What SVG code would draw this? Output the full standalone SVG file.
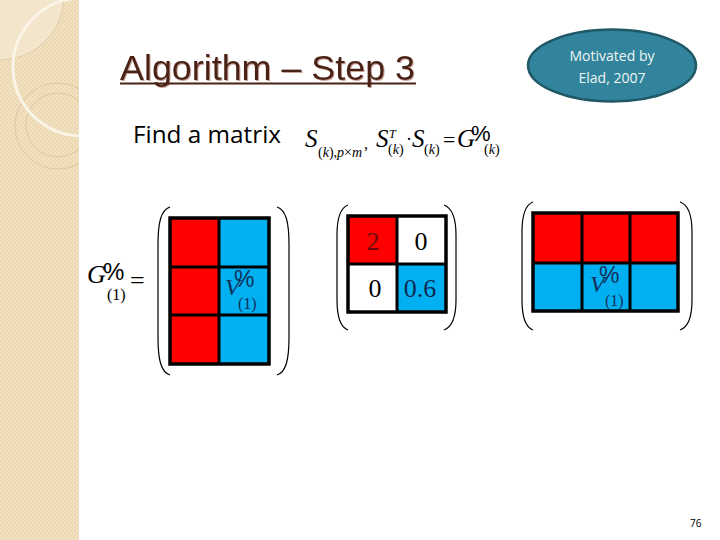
<svg xmlns="http://www.w3.org/2000/svg" width="720" height="540" viewBox="0 0 720 540">
  <defs>
    <pattern id="tex" width="4" height="4" patternUnits="userSpaceOnUse">
      <rect width="4" height="4" fill="#F1E1C0"/>
      <rect width="2" height="2" fill="#ECD9B4"/>
      <rect x="2" y="2" width="2" height="2" fill="#ECD9B4"/>
    </pattern>
    <clipPath id="side"><rect x="0" y="0" width="79" height="540"/></clipPath>
    <filter id="sh" x="-5%" y="-20%" width="110%" height="140%">
      <feOffset dx="1.2" dy="1.2" in="SourceAlpha" result="o"/>
      <feFlood flood-color="#B47A70" flood-opacity="0.7"/>
      <feComposite in2="o" operator="in" result="s"/>
      <feMerge><feMergeNode in="s"/><feMergeNode in="SourceGraphic"/></feMerge>
    </filter>
  </defs>
  <style>
    .red{fill:#FF0000}
    .blue{fill:#00B0F0}
    .wht{fill:#FFFFFF}
    .grid{fill:none;stroke:#000;stroke-width:3.5}
    .gl{stroke:#000;stroke-width:3}
    .paren{fill:none;stroke:#000;stroke-width:1.2}
    .m{font-family:"Liberation Serif",serif}
    .mi{font-family:"Liberation Serif",serif;font-style:italic}
    .pc{font-family:"Liberation Sans",sans-serif;font-style:normal}
  </style>
  <rect width="720" height="540" fill="#FFFFFF"/>

  <g id="sidebar" clip-path="url(#side)">
    <rect x="0" y="0" width="79" height="540" fill="url(#tex)"/>
    <circle cx="0" cy="-4" r="64" fill="#F6EBD6" opacity="0.6"/>
    <circle cx="0" cy="-4" r="64" fill="none" stroke="#D9C7A0" stroke-width="0.8"/>
    <circle cx="58" cy="126" r="43" fill="none" stroke="#D5C19A" stroke-width="0.8"/>
    <circle cx="58" cy="125" r="32" fill="none" stroke="#D5C19A" stroke-width="0.8"/>
    <circle cx="82" cy="67" r="69" fill="none" stroke="#FBF5E8" stroke-width="3"/>
  </g>

  <g id="title">
    <text x="120" y="80" font-family="Liberation Sans, Arial, sans-serif" font-size="35" fill="#4A2216" filter="url(#sh)" textLength="295" lengthAdjust="spacingAndGlyphs">Algorithm – Step 3</text>
    <rect x="120" y="82.5" width="296" height="2" fill="#4A2216"/>
  </g>

  <g id="note">
    <ellipse cx="612" cy="65.5" rx="84" ry="36" fill="#31849B" stroke="#215868" stroke-width="2.5"/>
    <text x="612" y="61" text-anchor="middle" font-family="Open Sans, sans-serif" font-size="14" fill="#EEF4F5">Motivated by</text>
    <text x="612" y="83" text-anchor="middle" font-family="Open Sans, sans-serif" font-size="14" fill="#EEF4F5">Elad, 2007</text>
  </g>

  <g id="statement">
    <text x="133" y="143" font-family="Open Sans, sans-serif" font-size="23" fill="#000" textLength="148" lengthAdjust="spacingAndGlyphs">Find a matrix</text>
    <text class="m" font-size="25" fill="#000"><tspan class="mi" x="305" y="147">S</tspan><tspan x="318" y="157" font-size="14">(<tspan class="mi">k</tspan>),<tspan class="mi">p</tspan>×<tspan class="mi">m</tspan></tspan><tspan x="364" y="149" font-size="16">,</tspan><tspan class="mi" x="376" y="147">S</tspan><tspan class="mi" x="389" y="138" font-size="12">T</tspan><tspan x="388" y="154" font-size="14">(<tspan class="mi">k</tspan>)</tspan><tspan x="406" y="145" font-size="18">·</tspan><tspan class="mi" x="412" y="147">S</tspan><tspan x="424" y="154" font-size="14">(<tspan class="mi">k</tspan>)</tspan><tspan x="443" y="147" font-size="22">=</tspan><tspan class="mi" x="457" y="147">G</tspan><tspan class="pc" x="471" y="141" font-size="22">%</tspan><tspan x="484" y="154" font-size="14">(<tspan class="mi">k</tspan>)</tspan></text>
  </g>

  <g id="matrix-G">
    <text class="m" font-size="26" fill="#000"><tspan class="mi" x="87" y="283">G</tspan><tspan class="pc" x="103" y="280" font-size="24">%</tspan><tspan x="107" y="300" font-size="16">(1)</tspan><tspan x="130" y="289">=</tspan></text>
    <path class="paren" d="M170 207 C161 210 158 222 158 245 L158 337 C158 360 161 372 170 375"/>
    <path class="paren" d="M277 207 C286 210 289 222 289 245 L289 337 C289 360 286 372 277 375"/>
    <rect class="red" x="170" y="218" width="49" height="146"/>
    <rect class="blue" x="219" y="218" width="50" height="146"/>
    <line class="gl" x1="219" y1="218" x2="219" y2="364"/>
    <line class="gl" x1="170" y1="267" x2="269" y2="267"/>
    <line class="gl" x1="170" y1="315" x2="269" y2="315"/>
    <rect class="grid" x="170" y="218" width="99" height="146"/>
    <text class="m" font-size="24" fill="#12305A"><tspan class="mi" x="225" y="295">V</tspan><tspan class="pc" x="234" y="287" font-size="23">%</tspan><tspan x="238" y="309" font-size="16">(1)</tspan></text>
  </g>

  <g id="matrix-D">
    <path class="paren" d="M348 205 C340 208 337 218 337 235 L337 300 C337 317 340 327 348 330"/>
    <path class="paren" d="M444 205 C452 208 456 218 456 235 L456 300 C456 317 452 327 444 330"/>
    <rect class="red" x="348" y="216" width="49" height="48"/>
    <rect class="wht" x="397" y="216" width="49" height="48"/>
    <rect class="wht" x="348" y="264" width="49" height="48"/>
    <rect class="blue" x="397" y="264" width="49" height="48"/>
    <line class="gl" x1="397" y1="216" x2="397" y2="312"/>
    <line class="gl" x1="348" y1="264" x2="446" y2="264"/>
    <rect class="grid" x="348" y="216" width="98" height="96"/>
    <text class="m" x="373" y="250" font-size="26" text-anchor="middle" fill="#6B0A0A">2</text>
    <text class="m" x="421" y="250" font-size="26" text-anchor="middle" fill="#000">0</text>
    <text class="m" x="375" y="297" font-size="26" text-anchor="middle" fill="#000">0</text>
    <text class="m" x="420" y="297" font-size="26" text-anchor="middle" fill="#0B2A50">0.6</text>
  </g>

  <g id="matrix-GT">
    <path class="paren" d="M533 202 C525 205 522 216 522 232 L522 300 C522 316 525 327 533 330"/>
    <path class="paren" d="M680 202 C689 205 692 216 692 232 L692 300 C692 316 689 327 680 330"/>
    <rect class="red" x="533" y="213" width="145" height="50"/>
    <rect class="blue" x="533" y="263" width="145" height="48"/>
    <line class="gl" x1="582" y1="213" x2="582" y2="311"/>
    <line class="gl" x1="630" y1="213" x2="630" y2="311"/>
    <line class="gl" x1="533" y1="263" x2="678" y2="263"/>
    <rect class="grid" x="533" y="213" width="145" height="98"/>
    <text class="m" font-size="24" fill="#12305A"><tspan class="mi" x="590" y="292">V</tspan><tspan class="pc" x="599" y="283" font-size="23">%</tspan><tspan x="605" y="306" font-size="16">(1)</tspan></text>
  </g>

  <g id="connectors"></g>

  <g id="page-number">
    <text x="690" y="527" font-family="Open Sans, sans-serif" font-size="10" fill="#000">76</text>
  </g>
</svg>
